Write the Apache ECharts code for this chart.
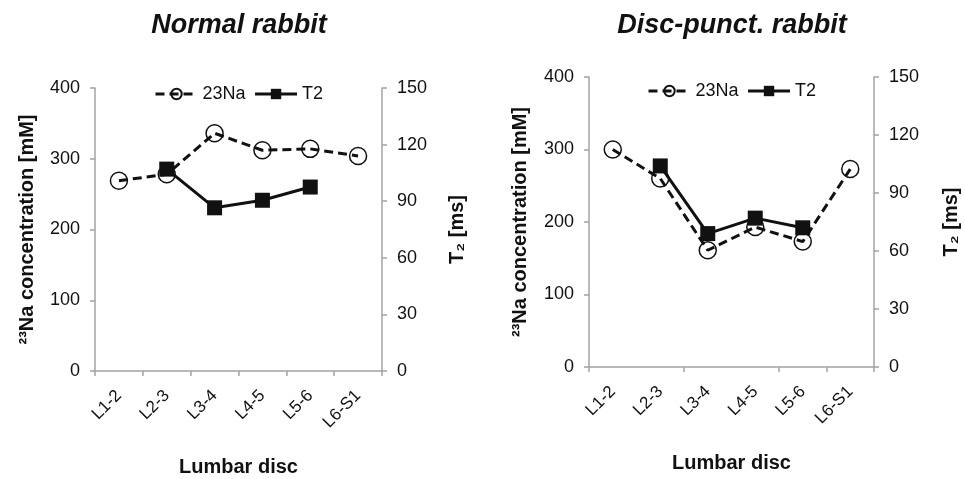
<!DOCTYPE html>
<html>
<head>
<meta charset="utf-8">
<script src="https://cdn.jsdelivr.net/npm/echarts@6/dist/echarts.min.js"></script>
<style>
  html, body { margin: 0; padding: 0; background: #fff; }
  #chart { width: 965px; height: 479px; }
</style>
</head>
<body>
<div id="chart"></div>
<script>
// lumbar discs on the x axis
var discs = ['L1-2', 'L2-3', 'L3-4', 'L4-5', 'L5-6', 'L6-S1'];

// normal rabbit
var normalNa = [269, 278, 336, 312, 314, 304];
var normalT2 = [null, 107, 86.5, 90.5, 97.5, null];

// disc-punctured rabbit
var punctNa = [300, 260, 161, 193, 173, 273];
var punctT2 = [null, 104, 69, 77, 72, null];

var font = 'Liberation Sans, Arial, sans-serif';
var axisGray = '#a3a3a3';
var ink = '#111';

function catAxis(gridIndex, tickInterval, gap) {
  return {
    type: 'category',
    gridIndex: gridIndex,
    data: discs,
    boundaryGap: true,
    name: 'Lumbar disc',
    nameLocation: 'middle',
    nameGap: gap,
    nameTextStyle: {fontFamily: font, fontSize: 20, fontWeight: 'bold', color: ink},
    axisLine: {lineStyle: {color: axisGray, width: 1.5}},
    axisTick: {show: true, interval: tickInterval, length: 5, lineStyle: {color: axisGray, width: 1.5}},
    axisLabel: {rotate: 45, margin: 22, interval: 0, fontFamily: font, fontSize: 17, color: ink},
    splitLine: {show: false}
  };
}

function valAxis(gridIndex, side, max, interval, name, gap) {
  return {
    type: 'value',
    gridIndex: gridIndex,
    position: side,
    min: 0,
    max: max,
    interval: interval,
    name: name,
    nameLocation: 'middle',
    nameRotate: 90,
    nameGap: gap,
    nameTextStyle: {fontFamily: font, fontSize: 20, fontWeight: 'bold', color: ink},
    axisLine: {show: true, lineStyle: {color: axisGray, width: 1.5}},
    axisTick: {show: true, length: 5, lineStyle: {color: axisGray, width: 1.5}},
    axisLabel: {margin: 15, fontFamily: font, fontSize: 18, color: ink},
    splitLine: {show: false}
  };
}

function naSeries(idx, data) {
  return {
    name: '23Na',
    type: 'line',
    xAxisIndex: idx,
    yAxisIndex: idx * 2,
    data: data,
    symbol: 'circle',
    symbolSize: 17,
    lineStyle: {color: ink, width: 3, type: [9, 5]},
    itemStyle: {color: 'rgba(255,255,255,0)', borderColor: ink, borderWidth: 1.5},
    emphasis: {disabled: true},
    animation: false
  };
}

function t2Series(idx, data) {
  return {
    name: 'T2',
    type: 'line',
    xAxisIndex: idx,
    yAxisIndex: idx * 2 + 1,
    data: data,
    symbol: 'rect',
    symbolSize: 15,
    lineStyle: {color: ink, width: 3},
    itemStyle: {color: ink},
    emphasis: {disabled: true},
    animation: false
  };
}

function legend(left, top) {
  return {
    left: left,
    top: top,
    itemWidth: 42,
    itemHeight: 13,
    itemGap: 8,
    padding: 0,
    lineStyle: {width: 3},
    textStyle: {fontFamily: font, fontSize: 18, color: ink},
    data: ['23Na', 'T2']
  };
}

var chart = echarts.init(document.getElementById('chart'));

var option = {
  backgroundColor: '#fff',
  animation: false,
  title: [
    {text: 'Normal rabbit', left: 239, top: 12, padding: 0, textAlign: 'center',
      textStyle: {fontFamily: font, fontSize: 27, fontStyle: 'italic', fontWeight: 'bold', color: ink}},
    {text: 'Disc-punct. rabbit', left: 732, top: 12, padding: 0, textAlign: 'center',
      textStyle: {fontFamily: font, fontSize: 27, fontStyle: 'italic', fontWeight: 'bold', color: ink}}
  ],
  legend: [legend(154, 85), legend(647, 82)],
  grid: [
    {left: 95, right: 583, top: 88, bottom: 108, outerBoundsMode: 'none'},
    {left: 589, right: 91, top: 77, bottom: 112, outerBoundsMode: 'none'}
  ],
  xAxis: [catAxis(0, 0, 86), catAxis(1, 1, 86)],
  yAxis: [
    valAxis(0, 'left', 400, 100, '²³Na concentration [mM]', 58),
    valAxis(0, 'right', 150, 30, 'T₂ [ms]', 65),
    valAxis(1, 'left', 400, 100, '²³Na concentration [mM]', 59),
    valAxis(1, 'right', 150, 30, 'T₂ [ms]', 67)
  ],
  series: [
    naSeries(0, normalNa),
    t2Series(0, normalT2),
    naSeries(1, punctNa),
    t2Series(1, punctT2)
  ]
};

chart.setOption(option);
</script>
</body>
</html>
